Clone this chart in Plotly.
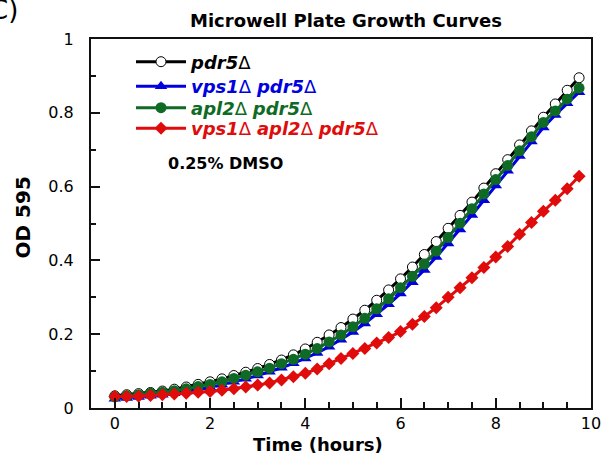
import plotly.graph_objects as go

time_h = [0, 0.25, 0.5, 0.75, 1.0, 1.25, 1.5, 1.75, 2.0, 2.25, 2.5, 2.75, 3.0, 3.25, 3.5, 3.75,
          4.0, 4.25, 4.5, 4.75, 5.0, 5.25, 5.5, 5.75, 6.0, 6.25, 6.5, 6.75, 7.0, 7.25, 7.5, 7.75,
          8.0, 8.25, 8.5, 8.75, 9.0, 9.25, 9.5, 9.75]

od_pdr5 = [0.033, 0.036, 0.039, 0.042, 0.046, 0.051, 0.057, 0.064, 0.071, 0.079, 0.088, 0.097,
           0.107, 0.118, 0.130, 0.144, 0.160, 0.178, 0.198, 0.218, 0.241, 0.265, 0.292, 0.320,
           0.350, 0.382, 0.416, 0.451, 0.487, 0.522, 0.558, 0.596, 0.635, 0.673, 0.713, 0.751,
           0.788, 0.824, 0.861, 0.895]

od_vps1_pdr5 = [0.025, 0.027, 0.030, 0.033, 0.036, 0.040, 0.045, 0.050, 0.056, 0.063, 0.071, 0.079,
                0.088, 0.098, 0.109, 0.121, 0.134, 0.149, 0.166, 0.185, 0.206, 0.229, 0.254, 0.281,
                0.310, 0.341, 0.374, 0.409, 0.446, 0.484, 0.523, 0.563, 0.603, 0.643, 0.683, 0.722,
                0.760, 0.794, 0.826, 0.856]

od_apl2_pdr5 = [0.030, 0.033, 0.036, 0.040, 0.043, 0.047, 0.052, 0.058, 0.064, 0.071, 0.080, 0.089,
                0.098, 0.108, 0.120, 0.132, 0.146, 0.161, 0.179, 0.198, 0.220, 0.243, 0.269, 0.296,
                0.326, 0.357, 0.390, 0.425, 0.462, 0.501, 0.540, 0.580, 0.619, 0.657, 0.697, 0.735,
                0.774, 0.805, 0.837, 0.867]

od_vps1_apl2_pdr5 = [0.031, 0.031, 0.032, 0.034, 0.036, 0.038, 0.040, 0.043, 0.045, 0.048, 0.052, 0.057,
                     0.062, 0.068, 0.076, 0.085, 0.094, 0.106, 0.120, 0.134, 0.148, 0.161, 0.176, 0.191,
                     0.207, 0.227, 0.248, 0.272, 0.300, 0.326, 0.353, 0.381, 0.409, 0.438, 0.471, 0.503,
                     0.533, 0.563, 0.594, 0.628]

x_ticks = [0, 2, 4, 6, 8, 10]
y_ticks = [0, 0.2, 0.4, 0.6, 0.8, 1]

BLACK = "#000000"
BLUE = "#0000e0"
GREEN = "#0e6a24"
RED = "#e00c0c"

FONT = "DejaVu Sans"

# body margin is removed, so figure pixels = page pixels; plot area x 91..591, y 39..408
PX_L, PX_R, PX_T, PX_B = 91, 591, 39, 408


def px_x(px):
    return (px - PX_L) / (PX_R - PX_L)


def px_y(py):
    return (PX_B - py) / (PX_B - PX_T)


def lname(parts, color):
    s = " ".join("<b><i>%s</i></b>Δ" % p for p in parts)
    return "<span style='color:%s'>%s</span>" % (color, s)


fig = go.Figure()
fig.add_trace(go.Scatter(
    x=time_h, y=od_pdr5, mode="lines+markers", name=lname(["pdr5"], BLACK), legend="legend",
    line=dict(color=BLACK, width=3),
    marker=dict(symbol="circle", size=10, color="white", line=dict(color=BLACK, width=1))))
fig.add_trace(go.Scatter(
    x=time_h, y=od_vps1_pdr5, mode="lines+markers", name=lname(["vps1", "pdr5"], BLUE), legend="legend2",
    line=dict(color=BLUE, width=3),
    marker=dict(symbol="triangle-up", size=11, color=BLUE)))
fig.add_trace(go.Scatter(
    x=time_h, y=od_apl2_pdr5, mode="lines+markers", name=lname(["apl2", "pdr5"], GREEN), legend="legend3",
    line=dict(color=GREEN, width=3),
    marker=dict(symbol="circle", size=11, color=GREEN)))
fig.add_trace(go.Scatter(
    x=time_h, y=od_vps1_apl2_pdr5, mode="lines+markers", name=lname(["vps1", "apl2", "pdr5"], RED), legend="legend4",
    line=dict(color=RED, width=3),
    marker=dict(symbol="diamond", size=10, color=RED)))

axis_common = dict(
    showline=True, linecolor="#111", linewidth=2, mirror=True,
    ticks="inside", tickcolor="#111", tickwidth=1.5,
    showgrid=False, zeroline=False, automargin=False,
    tickfont=dict(family=FONT, size=16, color="black"),
)

fig.update_xaxes(range=[-0.5, 10], tickvals=x_ticks, ticklen=10, ticklabelstandoff=0,
                 minor=dict(dtick=0.5, tick0=0, ticks="inside", ticklen=6, tickcolor="#111", tickwidth=1.5),
                 **axis_common)
fig.update_yaxes(range=[0, 1], tickvals=y_ticks, ticklen=9, ticklabelstandoff=12,
                 minor=dict(dtick=0.1, tick0=0, ticks="inside", ticklen=5, tickcolor="#111", tickwidth=1.5),
                 **axis_common)


def leg(row_y):
    return dict(x=px_x(131), y=px_y(row_y), xanchor="left", yanchor="middle", bgcolor="rgba(0,0,0,0)",
                font=dict(family=FONT, size=18), itemwidth=50)


fig.update_layout(
    width=605, height=460,
    margin=dict(l=91, r=14, t=39, b=52),
    paper_bgcolor="white", plot_bgcolor="white",
    font=dict(family=FONT, color="black"),
    title=dict(text="<b>Microwell Plate Growth Curves</b>", font=dict(family=FONT, size=18, color="black"),
               x=346 / 605, xanchor="center", xref="container", y=1 - 21 / 460, yanchor="middle", yref="container"),
    legend=leg(62), legend2=leg(86.5), legend3=leg(108), legend4=leg(128.5),
    showlegend=True,
)

fig.add_annotation(text="<b>Time (hours)</b>", xref="paper", yref="paper", x=px_x(318), y=px_y(444),
                   xanchor="center", yanchor="middle", showarrow=False, font=dict(family=FONT, size=18))
fig.add_annotation(text="<b>OD 595</b>", xref="paper", yref="paper", x=px_x(22.5), y=px_y(218),
                   xanchor="center", yanchor="middle", textangle=-90, showarrow=False, font=dict(family=FONT, size=20))
fig.add_annotation(text="<b>0.25% DMSO</b>", xref="paper", yref="paper", x=px_x(225), y=px_y(163),
                   xanchor="center", yanchor="middle", showarrow=False, font=dict(family=FONT, size=16))
fig.add_annotation(text="C)", xref="paper", yref="paper", x=px_x(20), y=px_y(10),
                   xanchor="right", yanchor="middle", showarrow=False, font=dict(family=FONT, size=26))

fig.write_html("out.html", config={"displayModeBar": False},
               post_script="document.body.style.margin='0px';")
